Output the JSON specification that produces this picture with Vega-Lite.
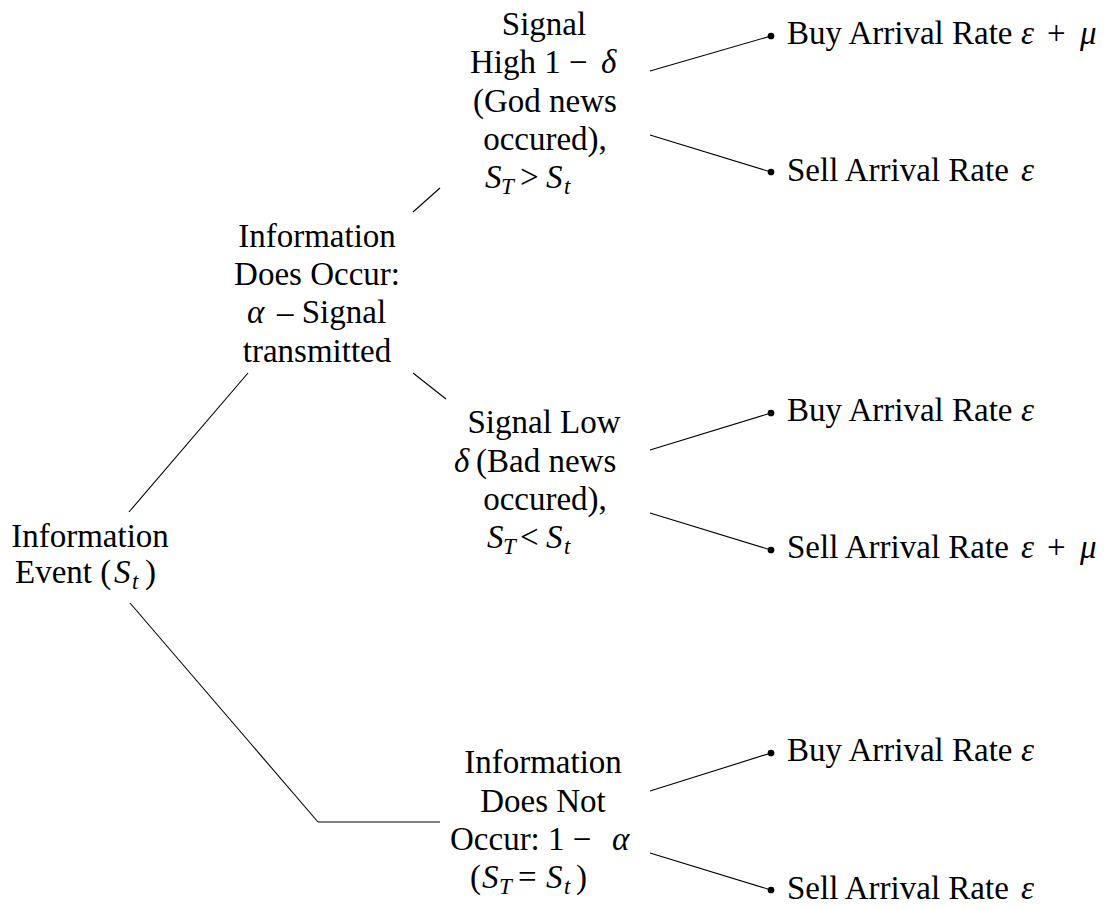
{
  "$schema": "https://vega.github.io/schema/vega-lite/v6.json",
  "width": 1119,
  "height": 909,
  "autosize": {"type": "fit", "contains": "padding"},
  "padding": 0,
  "background": "white",
  "config": {"view": {"stroke": null}},
  "datasets": {
    "lines": [
      {"x1": 129, "y1": 512, "x2": 248, "y2": 373},
      {"x1": 413, "y1": 212, "x2": 440, "y2": 188},
      {"x1": 413, "y1": 373, "x2": 446, "y2": 399},
      {"x1": 130, "y1": 603, "x2": 318, "y2": 822},
      {"x1": 318, "y1": 822, "x2": 440, "y2": 822},
      {"x1": 650, "y1": 71, "x2": 771, "y2": 36},
      {"x1": 650, "y1": 135, "x2": 771, "y2": 172},
      {"x1": 650, "y1": 450, "x2": 771, "y2": 413},
      {"x1": 650, "y1": 513, "x2": 771, "y2": 550},
      {"x1": 650, "y1": 791, "x2": 771, "y2": 753},
      {"x1": 650, "y1": 853, "x2": 771, "y2": 890}
    ],
    "dots": [
      {"x": 771, "y": 36},
      {"x": 771, "y": 172},
      {"x": 771, "y": 413},
      {"x": 771, "y": 550},
      {"x": 771, "y": 753},
      {"x": 771, "y": 890}
    ],
    "centered": [
      {"x": 90, "y": 547, "t": "Information"},
      {"x": 317, "y": 247, "t": "Information"},
      {"x": 317, "y": 285, "t": "Does Occur:"},
      {"x": 317, "y": 362, "t": "transmitted"},
      {"x": 544, "y": 35, "t": "Signal"},
      {"x": 545, "y": 112, "t": "(God news"},
      {"x": 545, "y": 150, "t": "occured),"},
      {"x": 544, "y": 433, "t": "Signal Low"},
      {"x": 545, "y": 510, "t": "occured),"},
      {"x": 543, "y": 773, "t": "Information"},
      {"x": 543, "y": 812, "t": "Does Not"}
    ],
    "segs": [
      {"x": 15, "y": 583, "t": "Event (", "s": "n"},
      {"x": 114, "y": 583, "t": "S", "s": "i"},
      {"x": 132, "y": 589, "t": "t", "s": "sub"},
      {"x": 145, "y": 583, "t": ")", "s": "n"},
      {"x": 247, "y": 323, "t": "α", "s": "i"},
      {"x": 277, "y": 323, "t": "– Signal", "s": "n"},
      {"x": 470, "y": 73, "t": "High 1 −", "s": "n"},
      {"x": 601, "y": 73, "t": "δ", "s": "i"},
      {"x": 485, "y": 188, "t": "S", "s": "i"},
      {"x": 501, "y": 194, "t": "T", "s": "sub"},
      {"x": 520, "y": 188, "t": ">", "s": "n"},
      {"x": 546, "y": 188, "t": "S", "s": "i"},
      {"x": 564, "y": 194, "t": "t", "s": "sub"},
      {"x": 454, "y": 472, "t": "δ", "s": "i"},
      {"x": 476, "y": 472, "t": "(Bad news", "s": "n"},
      {"x": 487, "y": 548, "t": "S", "s": "i"},
      {"x": 503, "y": 554, "t": "T", "s": "sub"},
      {"x": 520, "y": 548, "t": "<", "s": "n"},
      {"x": 546, "y": 548, "t": "S", "s": "i"},
      {"x": 564, "y": 554, "t": "t", "s": "sub"},
      {"x": 450, "y": 850, "t": "Occur:", "s": "n"},
      {"x": 548, "y": 850, "t": "1 −", "s": "n"},
      {"x": 612, "y": 850, "t": "α", "s": "i"},
      {"x": 470, "y": 888, "t": "(", "s": "n"},
      {"x": 482, "y": 888, "t": "S", "s": "i"},
      {"x": 499, "y": 894, "t": "T", "s": "sub"},
      {"x": 518, "y": 888, "t": "=", "s": "n"},
      {"x": 546, "y": 888, "t": "S", "s": "i"},
      {"x": 564, "y": 894, "t": "t", "s": "sub"},
      {"x": 576, "y": 888, "t": ")", "s": "n"},
      {"x": 787, "y": 44, "t": "Buy Arrival Rate", "s": "n"},
      {"x": 1021, "y": 44, "t": "ε", "s": "i"},
      {"x": 1047, "y": 44, "t": "+", "s": "n"},
      {"x": 1080, "y": 44, "t": "μ", "s": "i"},
      {"x": 787, "y": 181, "t": "Sell Arrival Rate", "s": "n"},
      {"x": 1021, "y": 181, "t": "ε", "s": "i"},
      {"x": 787, "y": 421, "t": "Buy Arrival Rate", "s": "n"},
      {"x": 1021, "y": 421, "t": "ε", "s": "i"},
      {"x": 787, "y": 558, "t": "Sell Arrival Rate", "s": "n"},
      {"x": 1021, "y": 558, "t": "ε", "s": "i"},
      {"x": 1047, "y": 558, "t": "+", "s": "n"},
      {"x": 1080, "y": 558, "t": "μ", "s": "i"},
      {"x": 787, "y": 761, "t": "Buy Arrival Rate", "s": "n"},
      {"x": 1021, "y": 761, "t": "ε", "s": "i"},
      {"x": 787, "y": 899, "t": "Sell Arrival Rate", "s": "n"},
      {"x": 1021, "y": 899, "t": "ε", "s": "i"}
    ]
  },
  "layer": [
    {
      "data": {"name": "lines"},
      "mark": {"type": "rule", "stroke": "black", "strokeWidth": 1.1},
      "encoding": {
        "x": {"field": "x1", "type": "quantitative", "scale": {"domain": [0, 1119], "nice": false, "zero": false}, "axis": null},
        "y": {"field": "y1", "type": "quantitative", "scale": {"domain": [0, 909], "nice": false, "zero": false, "reverse": true}, "axis": null},
        "x2": {"field": "x2"},
        "y2": {"field": "y2"}
      }
    },
    {
      "data": {"name": "dots"},
      "mark": {"type": "point", "filled": true, "color": "black", "opacity": 1, "size": 45},
      "encoding": {
        "x": {"field": "x", "type": "quantitative"},
        "y": {"field": "y", "type": "quantitative"}
      }
    },
    {
      "data": {"name": "centered"},
      "mark": {"type": "text", "font": "Liberation Serif", "fontSize": 33, "align": "center", "baseline": "alphabetic", "color": "black"},
      "encoding": {
        "x": {"field": "x", "type": "quantitative"},
        "y": {"field": "y", "type": "quantitative"},
        "text": {"field": "t", "type": "nominal"}
      }
    },
    {
      "data": {"name": "segs"},
      "transform": [{"filter": "datum.s === 'n'"}],
      "mark": {"type": "text", "font": "Liberation Serif", "fontSize": 33, "align": "left", "baseline": "alphabetic", "color": "black"},
      "encoding": {
        "x": {"field": "x", "type": "quantitative"},
        "y": {"field": "y", "type": "quantitative"},
        "text": {"field": "t", "type": "nominal"}
      }
    },
    {
      "data": {"name": "segs"},
      "transform": [{"filter": "datum.s === 'i'"}],
      "mark": {"type": "text", "font": "Liberation Serif", "fontSize": 33, "fontStyle": "italic", "align": "left", "baseline": "alphabetic", "color": "black"},
      "encoding": {
        "x": {"field": "x", "type": "quantitative"},
        "y": {"field": "y", "type": "quantitative"},
        "text": {"field": "t", "type": "nominal"}
      }
    },
    {
      "data": {"name": "segs"},
      "transform": [{"filter": "datum.s === 'sub'"}],
      "mark": {"type": "text", "font": "Liberation Serif", "fontSize": 23, "fontStyle": "italic", "align": "left", "baseline": "alphabetic", "color": "black"},
      "encoding": {
        "x": {"field": "x", "type": "quantitative"},
        "y": {"field": "y", "type": "quantitative"},
        "text": {"field": "t", "type": "nominal"}
      }
    }
  ]
}
